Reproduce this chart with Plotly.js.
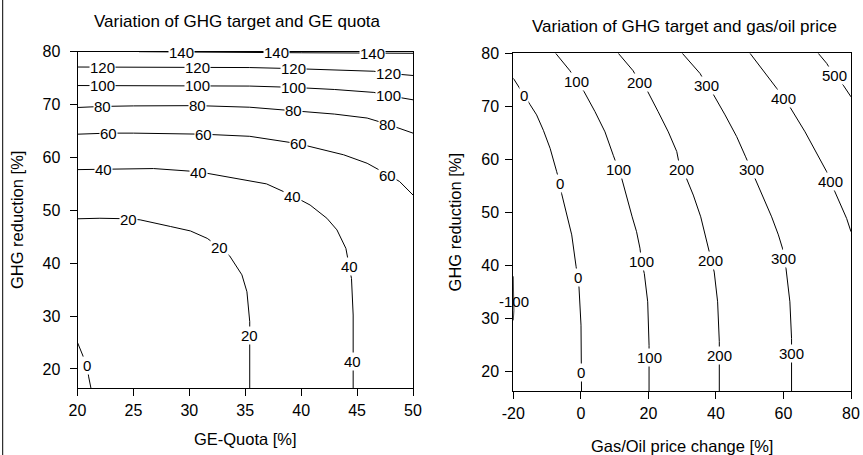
<!DOCTYPE html>
<html>
<head>
<meta charset="utf-8">
<script src="https://cdn.plot.ly/plotly-3.0.1.min.js"></script>
<style>html,body{margin:0;padding:0;background:#fff}#chart{width:863px;height:455px}</style>
</head>
<body>
<div id="chart"></div>
<script>
// ---------- Left panel: GHG reduction vs GE-Quota (contour lines) ----------
const geLevels = [140, 120, 100, 80, 60, 40, 20, 0];
const ge140 = [[25.5,80.0],[30,79.9],[35,79.85],[40,79.8],[45,79.75],[50,79.7]];
const ge120 = [[20,77.1],[25,77.1],[30,77.1],[35.4,77.0],[39.3,76.8],[43,76.55],[46.5,76.3],[47.8,75.9],[50,75.5]];
const ge100 = [[20,73.6],[25,73.6],[30,73.6],[35.4,73.5],[39.3,73.25],[43,72.85],[46.5,72.3],[47.8,71.7],[50,70.9]];
const ge80  = [[20,69.45],[22.2,69.65],[25,69.75],[30.75,69.8],[35.4,69.5],[39.3,68.9],[43,68.2],[45.9,67.45],[47.7,66.3],[50,64.6]];
const ge60  = [[20,64.4],[22.75,64.6],[25,64.6],[31.25,64.4],[35.4,64.0],[39.75,62.6],[43.8,60.5],[45.9,58.9],[47.7,56.8],[48.8,55.45],[50,52.9]];
const ge40  = [[20,57.7],[22.3,57.75],[26.8,57.9],[30.8,57.3],[35.4,55.6],[36.9,55.0],[39.2,52.8],[40.8,51.0],[42.3,48.5],[43.2,46.3],[44.0,42.8],[44.3,39.6],[44.5,37.1],[44.65,30.2],[44.65,23.5],[44.65,16.4]];
const ge20  = [[20,48.4],[22,48.5],[24.6,48.4],[25.6,48.2],[28.3,46.95],[30.1,46.1],[31.6,44.7],[32.7,43.0],[33.6,41.4],[34.7,37.8],[35.15,34.6],[35.4,28.95],[35.4,16.4]];
const ge0   = [[20,25.0],[20.5,22.6],[20.85,20.6],[21.0,18.5],[21.2,16.4]];
const geLines = [ge140, ge120, ge100, ge80, ge60, ge40, ge20, ge0];
// label anchor points (data coords) per level
const geLab140 = [[29.3,79.85],[37.8,79.85],[46.4,79.7]];
const geLab120 = [[22.2,77.1],[30.7,77.1],[39.3,76.8],[47.8,75.85]];
const geLab100 = [[22.2,73.6],[30.7,73.6],[39.3,73.25],[47.8,71.7]];
const geLab80  = [[22.2,69.65],[30.75,69.8],[39.3,68.9],[47.7,66.2]];
const geLab60  = [[22.75,64.6],[31.25,64.4],[39.75,62.6],[47.7,56.6]];
const geLab40  = [[22.3,57.7],[30.8,57.1],[39.2,52.7],[44.3,39.4],[44.6,21.4]];
const geLab20  = [[24.6,48.3],[32.7,43.0],[35.35,26.4]];
const geLab0   = [[20.85,20.6]];
const geLabs = [geLab140, geLab120, geLab100, geLab80, geLab60, geLab40, geLab20, geLab0];

// ---------- Right panel: GHG reduction vs Gas/Oil price change ----------
const opLevels = [-100, 0, 100, 200, 300, 400, 500];
const opM100 = [[-20,38.0],[-19.85,35],[-19.8,33.3],[-19.85,31.5],[-20,29.7]];
const op0   = [[-20,75.3],[-18.7,73.9],[-16.8,72.1],[-15.1,70.4],[-13.1,68.4],[-11.1,65.5],[-9.1,62.1],[-7.15,57.7],[-6.2,55.5],[-5.7,53.6],[-4.2,49.5],[-2.7,45.8],[-1.4,39.8],[-0.9,37.7],[-0.55,36.0],[0.05,28.8],[0.2,21.9],[0.2,16.4]];
const op100 = [[-7.45,80],[-3.2,76.7],[-1.2,74.65],[0.94,72.8],[4.2,69.0],[7.15,65.2],[9.6,60.8],[11.1,58.2],[12.1,56.45],[15.2,49.2],[16.5,46.4],[17.5,43.3],[18.0,40.7],[18.8,38.5],[19.8,33.2],[20.2,25.0],[20.2,16.4]];
const op200 = [[11.1,80],[15.5,76.7],[17.4,74.45],[19.8,72.8],[22.9,69.0],[25.9,65.2],[28.4,61.5],[29.4,58.3],[31.3,56.4],[33.3,53.3],[35.5,49.2],[37.7,43.3],[38.5,40.9],[39.5,38.8],[40.5,33.2],[41.0,25.7],[41.0,16.4]];
const op300 = [[30.05,80],[35.3,76.2],[37.3,74.0],[39.2,72.3],[42.7,68.4],[46.15,64.3],[48.8,60.5],[50.4,58.2],[51.6,56.45],[54.0,52.7],[56.5,49.2],[58.5,45.8],[59.7,43.3],[59.95,41.4],[60.75,39.5],[61.9,33.2],[62.4,26.3],[62.4,16.4]];
const op400 = [[50.1,80],[54.0,76.85],[58.0,73.4],[59.95,71.5],[61.9,69.9],[66.4,65.2],[70.3,60.8],[72.8,57.7],[73.8,55.8],[75.25,53.9],[78.7,48.9],[80,46.4]];
const op500 = [[70.3,80],[72.8,78.1],[75.05,75.8],[77.7,74.0],[80,71.8]];
const opLines = [opM100, op0, op100, op200, op300, op400, op500];
const opLabM100 = [[-19.7,33.3]];
const opLab0   = [[-16.8,72.1],[-6.2,55.5],[-0.9,37.7],[0.05,19.9]];
const opLab100 = [[-1.2,74.65],[11.1,58.2],[18.0,40.7],[20.2,22.8]];
const opLab200 = [[17.4,74.45],[29.7,58.2],[38.5,40.9],[41.0,23.1]];
const opLab300 = [[37.3,74.0],[50.4,58.2],[59.95,41.3],[62.3,23.5]];
const opLab400 = [[59.95,71.5],[73.8,55.8]];
const opLab500 = [[75.05,75.8]];
const opLabs = [opLabM100, opLab0, opLab100, opLab200, opLab300, opLab400, opLab500];

// tick values
const geXTicks = [20, 25, 30, 35, 40, 45, 50];
const opXTicks = [-20, 0, 20, 40, 60, 80];
const opXTickText = ['-20', '0', '20', '40', '60', '80'];
const yTicks = [20, 30, 40, 50, 60, 70, 80];

const FONT = 'Liberation Sans, Arial, Helvetica, sans-serif';
const traces = [];
const annotations = [];

function addPanel(lines, labs, levels, xa, ya, nobgLevel) {
  lines.forEach(function (pts) {
    traces.push({
      type: 'scatter', mode: 'lines',
      x: pts.map(p => p[0]), y: pts.map(p => p[1]),
      xaxis: xa, yaxis: ya,
      line: {color: '#000', width: 1},
      hoverinfo: 'skip', showlegend: false
    });
  });
  labs.forEach(function (pts, i) {
    pts.forEach(function (p) {
      annotations.push({
        x: p[0], y: p[1], xref: xa, yref: ya,
        text: String(levels[i]), showarrow: false,
        font: {family: FONT, size: 15, color: '#000'},
        bgcolor: levels[i] === nobgLevel ? 'rgba(0,0,0,0)' : '#fff',
        borderpad: 0, xanchor: 'center', yanchor: 'middle'
      });
    });
  });
}
addPanel(geLines, geLabs, geLevels, 'x', 'y', null);
addPanel(opLines, opLabs, opLevels, 'x2', 'y2', -100);

// subplot titles
annotations.push({text: 'Variation of GHG target and GE quota', xref: 'paper', yref: 'paper',
  x: 237 / 863, y: 1 - 21 / 455, xanchor: 'center', yanchor: 'middle', showarrow: false,
  font: {family: FONT, size: 17, color: '#000'}});
annotations.push({text: 'Variation of GHG target and gas/oil price', xref: 'paper', yref: 'paper',
  x: 684 / 863, y: 1 - 26.5 / 455, xanchor: 'center', yanchor: 'middle', showarrow: false,
  font: {family: FONT, size: 17, color: '#000'}});

function axis(extra) {
  return Object.assign({
    showgrid: false, zeroline: false, showline: true, mirror: true,
    linecolor: '#000', linewidth: 1, ticks: 'outside', ticklen: 7, tickcolor: '#000',
    tickfont: {family: FONT, size: 16, color: '#000'}, automargin: false, fixedrange: true
  }, extra);
}
const TF = {family: FONT, size: 16.5, color: '#000'};

const layout = {
  width: 863, height: 455,
  margin: {l: 0, r: 0, t: 0, b: 0, pad: 0},
  paper_bgcolor: '#fff', plot_bgcolor: '#fff',
  showlegend: false,
  font: {family: FONT, size: 15, color: '#000'},
  xaxis: axis({domain: [77.5 / 863, 413 / 863], range: [20, 50], tickvals: geXTicks, anchor: 'y',
    ticklabelstandoff: 1, title: {text: 'GE-Quota [%]', font: TF, standoff: 15}}),
  yaxis: axis({domain: [1 - 388 / 455, 1 - 51.7 / 455], range: [16.4, 80], tickvals: yTicks, anchor: 'x',
    ticklabelstandoff: 6, title: {text: 'GHG reduction [%]', font: TF, standoff: 14}}),
  xaxis2: axis({domain: [513.3 / 863, 851 / 863], range: [-20, 80], tickvals: opXTicks, ticktext: opXTickText,
    anchor: 'y2', ticklabelstandoff: 1, title: {text: 'Gas/Oil price change [%]', font: TF, standoff: 19}}),
  yaxis2: axis({domain: [1 - 391 / 455, 1 - 53.3 / 455], range: [16.4, 80], tickvals: yTicks, anchor: 'x2',
    ticklabelstandoff: 3, title: {text: 'GHG reduction [%]', font: TF, standoff: 15}}),
  annotations: annotations,
  shapes: [{type: 'line', xref: 'paper', yref: 'paper', x0: 2.7 / 863, x1: 2.7 / 863, y0: 0, y1: 1,
    line: {color: '#000', width: 1}}]
};

Plotly.newPlot('chart', traces, layout, {staticPlot: true, displayModeBar: false});
</script>
</body>
</html>
